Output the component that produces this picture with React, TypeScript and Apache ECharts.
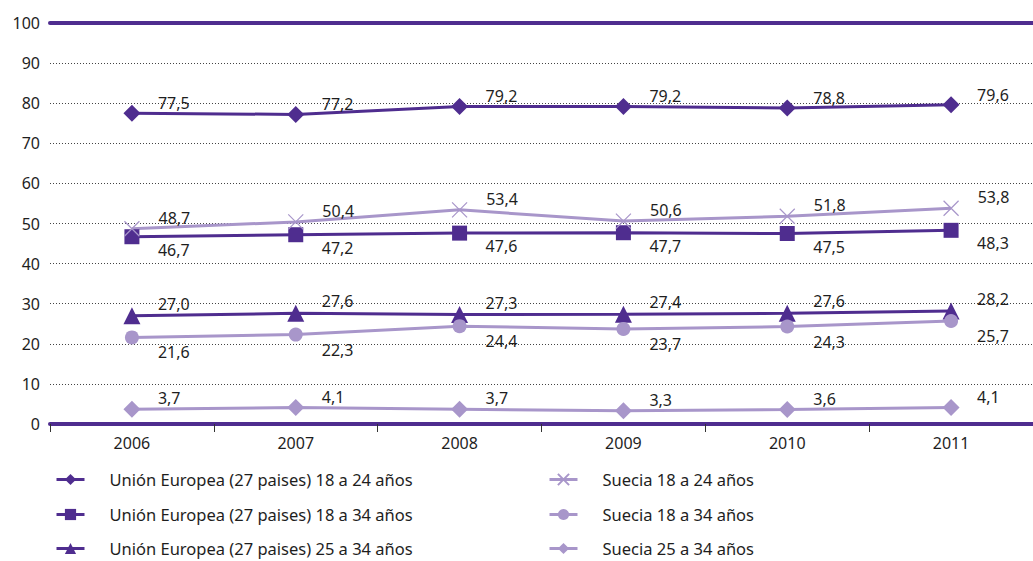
import React, { useEffect, useRef } from 'react';
import * as echarts from 'echarts';

const years = ['2006', '2007', '2008', '2009', '2010', '2011'];
const euAge18to24 = [77.5, 77.2, 79.2, 79.2, 78.8, 79.6];
const euAge18to34 = [46.7, 47.2, 47.6, 47.7, 47.5, 48.3];
const euAge25to34 = [27.0, 27.6, 27.3, 27.4, 27.6, 28.2];
const seAge18to24 = [48.7, 50.4, 53.4, 50.6, 51.8, 53.8];
const seAge18to34 = [21.6, 22.3, 24.4, 23.7, 24.3, 25.7];
const seAge25to34 = [3.7, 4.1, 3.7, 3.3, 3.6, 4.1];

const names = [
  'Unión Europea (27 paises) 18 a 24 años',
  'Unión Europea (27 paises) 18 a 34 años',
  'Unión Europea (27 paises) 25 a 34 años',
  'Suecia 18 a 24 años',
  'Suecia 18 a 34 años',
  'Suecia 25 a 34 años',
];

const DARK = '#4f2d8f';
const LIGHT = '#a896ca';
const FONT = '"Noto Sans", sans-serif';
const TEXT = '#1e1e1e';
const CROSS = 'path://M0,0L10,10M10,0L0,10';

function mk(name: string, data: number[], color: string, symbol: string, size: number, dy: number, cross = false) {
  return {
    name,
    type: 'line',
    data,
    symbol,
    symbolSize: size,
    lineStyle: { color, width: 3 },
    itemStyle: cross
      ? { color: 'rgba(0,0,0,0)', borderColor: color, borderWidth: 1.2 }
      : { color, borderWidth: 0 },
    label: {
      show: true,
      position: 'right',
      distance: 26 - size / 2,
      offset: [0, dy],
      fontFamily: FONT,
      fontSize: 16,
      color: TEXT,
      formatter: (p: any) => Number(p.value).toFixed(1).replace('.', ','),
    },
    emphasis: { disabled: true },
    z: 3,
  };
}

export default function App() {
  const ref = useRef<HTMLDivElement>(null);
  useEffect(() => {
    if (!ref.current) return;
    const chart = echarts.init(ref.current, undefined, { renderer: 'svg' });
    const rowTops = [471, 506, 540];
    const colLefts = [55, 548];
    const legends = names.map((n, i) => ({
      orient: 'horizontal',
      left: colLefts[Math.floor(i / 3)],
      top: rowTops[i % 3],
      padding: 0,
      itemWidth: 28,
      itemHeight: 14,
      lineStyle: { width: 3 },
      textStyle: { fontFamily: FONT, fontSize: 16.5, color: TEXT, padding: [0, 0, 0, 20] },
      selectedMode: false,
      data: [n],
    }));
    chart.setOption({
      animation: false,
      backgroundColor: '#ffffff',
      grid: { left: 50, right: -8, top: 23, bottom: 137 },
      legend: legends,
      xAxis: [
        {
          type: 'category',
          data: years,
          position: 'bottom',
          axisLine: { lineStyle: { color: DARK, width: 4 } },
          axisTick: { show: true, length: 8, lineStyle: { color: '#333', width: 1 } },
          axisLabel: { fontFamily: FONT, fontSize: 16, color: TEXT, margin: 11 },
          z: 5,
        },
        {
          type: 'category',
          data: years,
          position: 'top',
          axisLine: { lineStyle: { color: DARK, width: 4 } },
          axisTick: { show: false },
          axisLabel: { show: false },
          z: 5,
        },
      ],
      yAxis: {
        type: 'value',
        min: 0,
        max: 100,
        interval: 10,
        axisLine: { show: false },
        axisTick: { show: false },
        axisLabel: { fontFamily: FONT, fontSize: 16, color: TEXT, margin: 10 },
        splitLine: { lineStyle: { color: '#444', type: [1, 2], width: 1 } },
      },
      series: [
        mk(names[0], euAge18to24, DARK, 'diamond', 17, -10),
        mk(names[1], euAge18to34, DARK, 'rect', 15, 13),
        mk(names[2], euAge25to34, DARK, 'triangle', 17, -12),
        mk(names[3], seAge18to24, LIGHT, CROSS, 15, -11, true),
        mk(names[4], seAge18to34, LIGHT, 'circle', 14, 15),
        mk(names[5], seAge25to34, LIGHT, 'diamond', 17, -11),
      ],
    });
    return () => chart.dispose();
  }, []);
  return (
    <div
      ref={ref}
      style={{ position: 'absolute', left: 0, top: 0, width: 1033, height: 561 }}
    />
  );
}
